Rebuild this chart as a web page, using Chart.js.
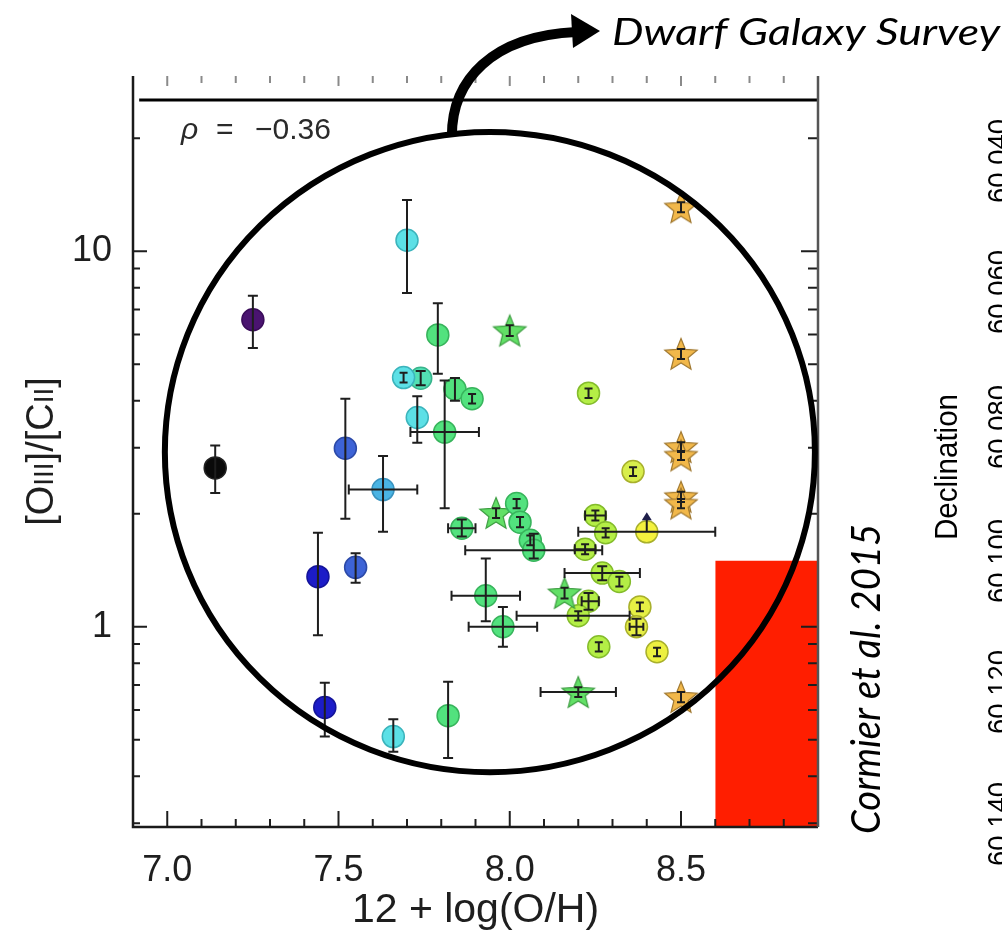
<!DOCTYPE html>
<html>
<head>
<meta charset="utf-8">
<script src="https://cdn.jsdelivr.net/npm/chart.js@4.4.0/dist/chart.umd.min.js"></script>
<style>
  html, body { margin: 0; padding: 0; background: #fff; }
</style>
</head>
<body>
<canvas id="grafico" width="1002" height="936"></canvas>
<script>
// eixo x: 12 + log(O/H) ; eixo y: [OIII]/[CII] (log)
const xTicks = [7.0, 7.5, 8.0, 8.5];
const yTicks = [1, 10];
const rho = "−0.36";

// pontos por cor
const pretoX = [7.14];
const pretoY = [2.65];
const pretoYlo = [2.27];
const pretoYhi = [3.04];

const roxoX = [7.25];
const roxoY = [6.57];
const roxoYlo = [5.53];
const roxoYhi = [7.62];

const azulEscuroX = [7.44, 7.46];
const azulEscuroY = [1.36, 0.61];
const azulEscuroYlo = [0.95, 0.51];
const azulEscuroYhi = [1.78, 0.71];

const azulX = [7.52, 7.55];
const azulY = [2.99, 1.44];
const azulYlo = [1.94, 1.31];
const azulYhi = [4.05, 1.57];

const azulClaroX = [7.63];
const azulClaroY = [2.32];
const azulClaroXlo = [7.53];
const azulClaroXhi = [7.73];
const azulClaroYlo = [1.79];
const azulClaroYhi = [2.85];

const cianoX = [7.70, 7.69, 7.73, 7.66];
const cianoY = [10.7, 4.61, 3.61, 0.51];
const cianoYlo = [7.75, 4.47, 3.09, 0.465];
const cianoYhi = [13.7, 4.75, 4.11, 0.567];

const turquesaX = [7.74];
const turquesaY = [4.59];
const turquesaYlo = [4.40];
const turquesaYhi = [4.80];

const verdeX = [7.79, 7.84, 7.89, 7.81, 7.86, 8.02, 8.03, 8.06, 8.07, 7.93, 7.98, 7.82];
const verdeY = [5.99, 4.30, 4.05, 3.30, 1.83, 2.13, 1.90, 1.70, 1.60, 1.21, 1.00, 0.58];
const verdeXlo = [null, null, null, 7.71, 7.82, null, null, null, 7.87, 7.83, 7.88, null];
const verdeXhi = [null, null, null, 7.91, 7.90, null, null, null, 8.27, 8.03, 8.08, null];
const verdeYlo = [4.72, 4.00, 3.93, 2.07, 1.74, 2.07, 1.84, 1.65, 1.52, 1.035, 0.885, 0.447];
const verdeYhi = [7.27, 4.60, 4.17, 4.53, 1.93, 2.19, 1.96, 1.75, 1.77, 1.52, 1.13, 0.714];

const verdeEstrelaX = [8.00, 7.96, 8.16, 8.20];
const verdeEstrelaY = [6.15, 2.01, 1.23, 0.67];
const verdeEstrelaXlo = [null, null, null, 8.09];
const verdeEstrelaXhi = [null, null, null, 8.31];
const verdeEstrelaYlo = [5.95, 1.95, 1.19, 0.65];
const verdeEstrelaYhi = [6.35, 2.07, 1.27, 0.69];

const limaX = [8.23, 8.25, 8.28, 8.22, 8.27, 8.32, 8.23, 8.20, 8.26];
const limaY = [4.19, 1.98, 1.78, 1.61, 1.39, 1.32, 1.17, 1.07, 0.885];
const limaXlo = [null, 8.22, null, 8.19, 8.16, null, 8.21, 8.02, null];
const limaXhi = [null, 8.28, null, 8.25, 8.38, null, 8.26, 8.35, null];
const limaYlo = [4.07, 1.92, 1.73, 1.56, 1.33, 1.28, 1.11, 1.04, 0.86];
const limaYhi = [4.31, 2.04, 1.83, 1.66, 1.45, 1.36, 1.23, 1.10, 0.91];

const amareloX = [8.36, 8.40, 8.38, 8.37, 8.43];
const amareloY = [2.59, 1.79, 1.13, 1.00, 0.858];
const amareloXlo = [null, 8.20, null, 8.35, null];
const amareloXhi = [null, 8.60, null, 8.39, null];
const amareloYlo = [2.52, null, 1.10, 0.95, 0.835];
const amareloYhi = [2.66, null, 1.16, 1.05, 0.88];
const amareloLimite = [null, 2.02, null, null, null];

const laranjaX = [8.50, 8.50, 8.50, 8.50, 8.50, 8.50, 8.50];
const laranjaY = [13.1, 5.33, 3.01, 2.86, 2.22, 2.13, 0.65];
const laranjaYlo = [12.7, 5.17, 2.92, 2.78, 2.15, 2.07, 0.63];
const laranjaYhi = [13.5, 5.49, 3.10, 2.94, 2.29, 2.19, 0.67];

// caixa vermelha e linha do topo
const caixaX = [8.6, 8.9];
const caixaY = [1.5, 1.5];
const linhaTopoX = [6.918, 8.9];
const linhaTopoY = [25.3, 25.3];
// circulo desenhado por cima (limites em coordenadas dos dados)
const circuloX = [6.993, 8.891];
const circuloY = [0.41, 20.8];

// rotulos do painel vizinho (cortados na borda)
const declLabels = ["60.040", "60.060", "60.080", "60.100", "60.120", "60.140"];
const declPos = [161, 292, 427, 561, 692, 824];

function pontos(xs, ys) {
  return xs.map((x, i) => ({ x: x, y: ys[i] }));
}

function estrela(cor, borda) {
  const c = document.createElement("canvas");
  c.width = 38;
  c.height = 38;
  const g = c.getContext("2d");
  g.beginPath();
  for (let k = 0; k < 10; k++) {
    const r = k % 2 === 0 ? 17 : 7.5;
    const a = -Math.PI / 2 + (k * Math.PI) / 5;
    g.lineTo(19 + r * Math.cos(a), 20.5 + r * Math.sin(a));
  }
  g.closePath();
  g.fillStyle = cor;
  g.fill();
  g.strokeStyle = borda;
  g.lineWidth = 1.2;
  g.stroke();
  return c;
}

function grupo(label, xs, ys, cor, borda, erros, estilo) {
  return {
    label: label,
    data: pontos(xs, ys),
    pointStyle: estilo || "circle",
    pointRadius: 11,
    backgroundColor: cor,
    borderColor: borda,
    borderWidth: 1.5,
    erros: erros,
  };
}

// texto girado (de baixo para cima) ajustado a um comprimento
function textoGirado(ctx, texto, x, y, fonte, comprimento, alinhar) {
  ctx.save();
  ctx.translate(x, y);
  ctx.rotate(-Math.PI / 2);
  ctx.font = fonte;
  ctx.textAlign = alinhar || "left";
  const w = ctx.measureText(texto).width;
  ctx.scale(comprimento / w, 1);
  ctx.fillText(texto, 0, 0);
  ctx.restore();
}

const datasets = [
  {
    type: "line",
    label: "caixa",
    data: pontos(caixaX, caixaY),
    fill: "start",
    backgroundColor: "#ff1e00",
    borderWidth: 0,
    pointRadius: 0,
    showLine: true,
  },
  {
    type: "line",
    label: "topo",
    data: pontos(linhaTopoX, linhaTopoY),
    borderColor: "#000",
    borderWidth: 3,
    pointRadius: 0,
    showLine: true,
    fill: false,
  },
  grupo("preto", pretoX, pretoY, "#0a0a0a", "#222", { yLo: pretoYlo, yHi: pretoYhi }),
  grupo("roxo", roxoX, roxoY, "#4a1470", "#3a0c5a", { yLo: roxoYlo, yHi: roxoYhi }),
  grupo("azulEscuro", azulEscuroX, azulEscuroY, "#1c1cc8", "#14149a", { yLo: azulEscuroYlo, yHi: azulEscuroYhi }),
  grupo("azul", azulX, azulY, "#3d63d6", "#2c4aa8", { yLo: azulYlo, yHi: azulYhi }),
  grupo("azulClaro", azulClaroX, azulClaroY, "#4ab4e4", "#3a94c0", { xLo: azulClaroXlo, xHi: azulClaroXhi, yLo: azulClaroYlo, yHi: azulClaroYhi }),
  grupo("ciano", cianoX, cianoY, "#5ce0e6", "#3cb4bc", { yLo: cianoYlo, yHi: cianoYhi }),
  grupo("turquesa", turquesaX, turquesaY, "#52e0b4", "#38b48c", { yLo: turquesaYlo, yHi: turquesaYhi }),
  grupo("verde", verdeX, verdeY, "#52e27e", "#38b45c", { xLo: verdeXlo, xHi: verdeXhi, yLo: verdeYlo, yHi: verdeYhi }),
  grupo("verdeEstrela", verdeEstrelaX, verdeEstrelaY, "#62e066", "#40a844",
    { xLo: verdeEstrelaXlo, xHi: verdeEstrelaXhi, yLo: verdeEstrelaYlo, yHi: verdeEstrelaYhi },
    estrela("#62e066", "#3c9c40")),
  grupo("lima", limaX, limaY, "#b4ee46", "#84bc2c", { xLo: limaXlo, xHi: limaXhi, yLo: limaYlo, yHi: limaYhi }),
  grupo("amarelo", amareloX, amareloY,
    ["#d8ee4c", "#f4f23e", "#e6f044", "#e6ee46", "#ecf040"], "#a8b02c",
    { xLo: amareloXlo, xHi: amareloXhi, yLo: amareloYlo, yHi: amareloYhi, limite: amareloLimite }),
  grupo("laranja", laranjaX, laranjaY, "#f2b84a", "#b88a30", { yLo: laranjaYlo, yHi: laranjaYhi },
    estrela("#f2b84a", "#a07830")),
];

const desenho = {
  id: "desenho",
  afterDatasetsDraw(chart) {
    const ctx = chart.ctx;
    const sx = chart.scales.x;
    const sy = chart.scales.y;
    const area = chart.chartArea;
    ctx.save();

    // barras de erro
    ctx.strokeStyle = "#1e1e1e";
    ctx.lineWidth = 2;
    chart.data.datasets.forEach((ds) => {
      const e = ds.erros;
      if (!e) return;
      ds.data.forEach((p, i) => {
        const px = sx.getPixelForValue(p.x);
        const py = sy.getPixelForValue(p.y);
        ctx.beginPath();
        if (e.yLo && e.yLo[i] != null) {
          const a = sy.getPixelForValue(e.yLo[i]);
          const b = sy.getPixelForValue(e.yHi[i]);
          const c = Math.abs(a - b) < 14 ? 4 : 5;
          ctx.moveTo(px, a); ctx.lineTo(px, b);
          ctx.moveTo(px - c, a); ctx.lineTo(px + c, a);
          ctx.moveTo(px - c, b); ctx.lineTo(px + c, b);
        }
        if (e.xLo && e.xLo[i] != null) {
          const a = sx.getPixelForValue(e.xLo[i]);
          const b = sx.getPixelForValue(e.xHi[i]);
          const c = Math.abs(a - b) < 14 ? 4 : 5;
          ctx.moveTo(a, py); ctx.lineTo(b, py);
          ctx.moveTo(a, py - c); ctx.lineTo(a, py + c);
          ctx.moveTo(b, py - c); ctx.lineTo(b, py + c);
        }
        ctx.stroke();
        if (e.limite && e.limite[i] != null) {
          const t = sy.getPixelForValue(e.limite[i]);
          ctx.beginPath();
          ctx.moveTo(px, py); ctx.lineTo(px, t + 4);
          ctx.stroke();
          ctx.fillStyle = "#1e1e4a";
          ctx.beginPath();
          ctx.moveTo(px, t); ctx.lineTo(px - 5, t + 8); ctx.lineTo(px + 5, t + 8);
          ctx.closePath();
          ctx.fill();
        }
      });
    });

    // ticks internos
    const xMin = [];
    for (let v = 70; v <= 88; v++) xMin.push(v / 10);
    xMin.forEach((v) => {
      const px = sx.getPixelForValue(v);
      const maior = xTicks.some((t) => Math.abs(t - v) < 1e-6);
      ctx.strokeStyle = "#1e1e1e";
      ctx.lineWidth = 2;
      ctx.beginPath();
      ctx.moveTo(px, area.bottom);
      ctx.lineTo(px, area.bottom - (maior ? 16 : 8));
      ctx.stroke();
      ctx.strokeStyle = "#8a8a8a";
      ctx.beginPath();
      ctx.moveTo(px, area.top);
      ctx.lineTo(px, area.top + (maior ? 10 : 7));
      ctx.stroke();
    });
    const yMin = [0.3, 0.4, 0.5, 0.6, 0.7, 0.8, 0.9, 1, 2, 3, 4, 5, 6, 7, 8, 9, 10, 20];
    ctx.strokeStyle = "#1e1e1e";
    yMin.forEach((v) => {
      const py = sy.getPixelForValue(v);
      const maior = yTicks.indexOf(v) >= 0;
      ctx.beginPath();
      ctx.moveTo(area.left, py);
      ctx.lineTo(area.left + (maior ? 14 : 7), py);
      ctx.moveTo(area.right, py);
      ctx.lineTo(area.right - (maior ? 17 : 10), py);
      ctx.stroke();
    });

    // eixos (sem linha no topo)
    ctx.lineWidth = 2.5;
    ctx.strokeStyle = "#1a1a1a";
    ctx.beginPath();
    ctx.moveTo(area.left, area.top);
    ctx.lineTo(area.left, area.bottom);
    ctx.lineTo(area.right, area.bottom);
    ctx.stroke();
    ctx.strokeStyle = "#555";
    ctx.beginPath();
    ctx.moveTo(area.right, area.top);
    ctx.lineTo(area.right, area.bottom);
    ctx.stroke();

    // rho
    ctx.fillStyle = "#2a2a2a";
    ctx.textBaseline = "alphabetic";
    ctx.textAlign = "left";
    ctx.font = "italic 30px 'Liberation Sans'";
    ctx.fillText("ρ", area.left + 48, area.top + 63);
    ctx.font = "30px 'Liberation Sans'";
    ctx.fillText("=", area.left + 83, area.top + 63);
    ctx.fillText(rho, area.left + 122, area.top + 63);

    // titulo do eixo y com OIII / CII em versalete
    ctx.save();
    ctx.translate(40, (area.top + area.bottom) / 2);
    ctx.rotate(-Math.PI / 2);
    const partes = [["[O", 1], ["III", 0.74], ["]/[C", 1], ["II", 0.74], ["]", 1]];
    const base = 38;
    let total = 0;
    partes.forEach((p) => {
      ctx.font = Math.round(base * p[1]) + "px 'Liberation Sans'";
      total += ctx.measureText(p[0]).width;
    });
    let cx = -total / 2;
    ctx.fillStyle = "#1e1e1e";
    ctx.textBaseline = "alphabetic";
    partes.forEach((p) => {
      ctx.font = Math.round(base * p[1]) + "px 'Liberation Sans'";
      ctx.fillText(p[0], cx, 13);
      cx += ctx.measureText(p[0]).width;
    });
    ctx.restore();

    // circulo destacado
    const l = sx.getPixelForValue(circuloX[0]);
    const r = sx.getPixelForValue(circuloX[1]);
    const t = sy.getPixelForValue(circuloY[1]);
    const b = sy.getPixelForValue(circuloY[0]);
    ctx.lineWidth = 6;
    ctx.strokeStyle = "#000";
    ctx.beginPath();
    ctx.ellipse((l + r) / 2, (t + b) / 2, (r - l) / 2, (b - t) / 2, 0, 0, Math.PI * 2);
    ctx.stroke();

    // seta
    const topoX = (l + r) / 2 - 38;
    ctx.lineWidth = 10;
    ctx.lineCap = "butt";
    ctx.beginPath();
    ctx.moveTo(topoX, t + 4);
    ctx.bezierCurveTo(topoX, 80, 492, 36, 576, 32);
    ctx.stroke();
    ctx.fillStyle = "#000";
    ctx.beginPath();
    ctx.moveTo(600, 31);
    ctx.lineTo(571, 14);
    ctx.lineTo(573, 48);
    ctx.closePath();
    ctx.fill();

    // textos da figura
    ctx.fillStyle = "#000";
    ctx.textAlign = "left";
    ctx.textBaseline = "alphabetic";
    ctx.save();
    ctx.translate(612, 45);
    ctx.font = "italic 36px Lato";
    ctx.scale(388 / ctx.measureText("Dwarf Galaxy Survey").width, 1);
    ctx.fillText("Dwarf Galaxy Survey", 0, 0);
    ctx.restore();

    textoGirado(ctx, "Cormier et al. 2015", 880, 834, "italic 40px Lato", 310);
    textoGirado(ctx, "Declination", 957, 540, "31px 'Liberation Sans'", 146);
    declLabels.forEach((s, i) => {
      textoGirado(ctx, s, 1008, declPos[i], "29px 'Liberation Sans'", 84, "center");
    });

    ctx.restore();
  },
};

new Chart(document.getElementById("grafico"), {
  type: "scatter",
  data: { datasets: datasets },
  options: {
    responsive: false,
    devicePixelRatio: 1,
    animation: false,
    layout: { padding: { top: 76, right: 184, left: 0, bottom: 0 } },
    plugins: {
      legend: { display: false },
      tooltip: { enabled: false },
    },
    scales: {
      x: {
        type: "linear",
        min: 6.9,
        max: 8.9,
        grid: { display: false },
        border: { display: false },
        afterBuildTicks: (s) => {
          s.ticks = xTicks.map((v) => ({ value: v }));
        },
        afterFit: (s) => {
          s.height = 109;
        },
        ticks: {
          autoSkip: false,
          maxRotation: 0,
          padding: 14,
          color: "#1e1e1e",
          font: { family: "'Liberation Sans'", size: 36 },
          callback: (v) => Number(v).toFixed(1),
        },
        title: {
          display: true,
          text: "12 + log(O/H)",
          color: "#1e1e1e",
          font: { family: "'Liberation Sans'", size: 41 },
          padding: { top: 0, bottom: 1 },
        },
      },
      y: {
        type: "logarithmic",
        min: 0.293,
        max: 29.3,
        grid: { display: false },
        border: { display: false },
        afterBuildTicks: (s) => {
          s.ticks = yTicks.map((v) => ({ value: v }));
        },
        afterFit: (s) => {
          s.width = 133;
        },
        ticks: {
          autoSkip: false,
          padding: 13,
          color: "#1e1e1e",
          font: { family: "'Liberation Sans'", size: 36 },
          callback: (v) => String(v),
        },
      },
    },
  },
  plugins: [desenho],
});
</script>
</body>
</html>
